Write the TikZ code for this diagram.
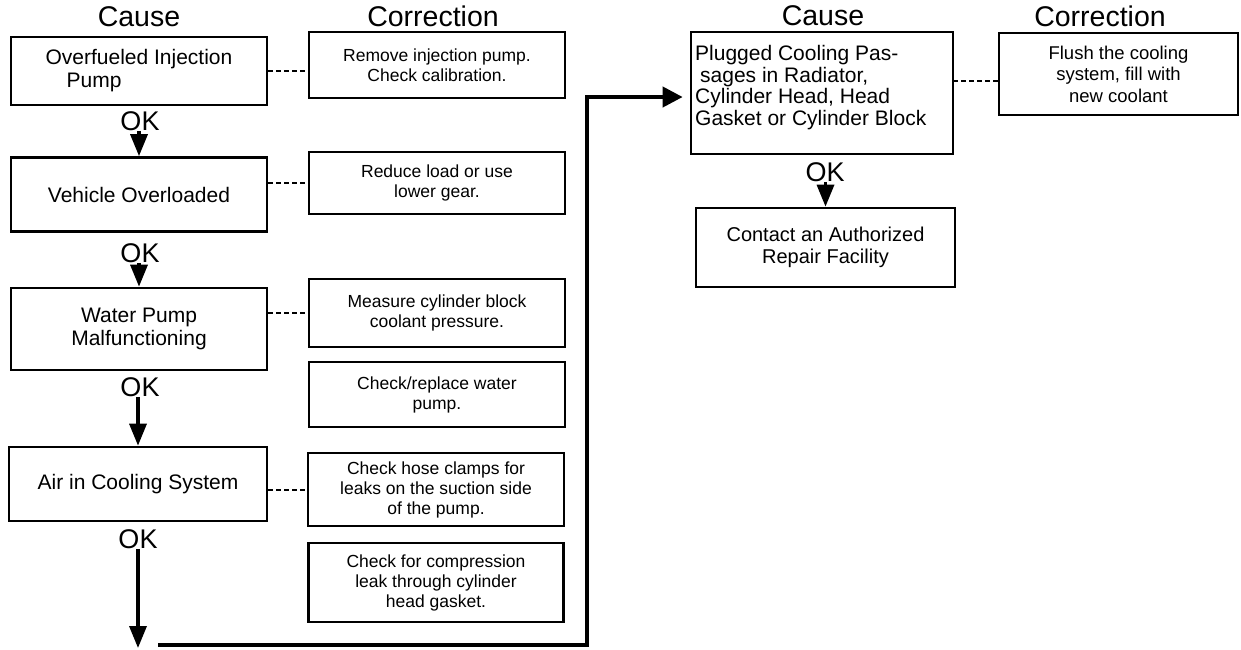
\documentclass[tikz,border=0pt]{standalone}
\usepackage{fontspec}
\setmainfont{Liberation Sans}
\usetikzlibrary{arrows.meta}
\begin{document}
\begin{tikzpicture}[x=1pt,y=-1pt,
  cause/.style={draw, line width=2.7pt, inner sep=3pt, align=center,
    font=\fontsize{21}{23}\selectfont},
  corr/.style={draw, line width=2.4pt, inner sep=3pt, align=center,
    font=\fontsize{17.5}{20}\selectfont},
  hdr/.style={inner sep=0pt, font=\fontsize{28.5}{30}\selectfont},
  ok/.style={inner sep=0pt, font=\fontsize{27}{28}\selectfont},
  arr/.style={line width=3.4pt, -{Triangle[width=17pt,length=22pt]}},
  route/.style={line width=4pt, line join=miter, -{Triangle[width=20pt,length=20pt]}},
  link/.style={line width=2pt, dash pattern=on 5pt off 3pt}
]
\useasboundingbox (0,0) rectangle (1241,649);
% headers
\node[hdr] (h1) at (139,17) {Cause};
\node[hdr] (h2) at (433,16) {Correction};
\node[hdr] (h3) at (823,16) {Cause};
\node[hdr] (h4) at (1100,16) {Correction};
% cause boxes left
\node[cause, minimum width=256pt, minimum height=68pt, align=left] (b1) at (139,71)
  {Overfueled Injection\\\hspace*{21pt}Pump};
\node[cause, minimum width=256pt, minimum height=74pt] (b2) at (139,194.5) {Vehicle Overloaded};
\node[cause, minimum width=256pt, minimum height=82pt] (b3) at (139,329) {Water Pump\\Malfunctioning};
\node[cause, minimum width=258pt, minimum height=74pt] (b4) at (138,484) {Air in Cooling System};
% correction boxes left
\node[corr, minimum width=256pt, minimum height=66pt] (c1) at (437,65) {Remove injection pump.\\Check calibration.};
\node[corr, minimum width=256pt, minimum height=62pt] (c2) at (437,183) {Reduce load or use\\lower gear.};
\node[corr, minimum width=256pt, minimum height=68pt] (c3) at (437,313) {Measure cylinder block\\coolant pressure.};
\node[corr, minimum width=256pt, minimum height=65pt] (c4) at (437,394.5) {Check/replace water\\pump.};
\node[corr, minimum width=256pt, minimum height=73pt] (c5) at (436,489.5) {Check hose clamps for\\leaks on the suction side\\of the pump.};
\node[corr, minimum width=255pt, minimum height=79pt] (c6) at (436,582.5) {Check for compression\\leak through cylinder\\head gasket.};
% right side
\node[draw, line width=2.7pt, minimum width=262pt, minimum height=122pt] (p) at (822,93) {};
\node[anchor=north west, inner sep=0pt, align=left, font=\fontsize{21}{21.7}\selectfont] (pt) at (695,45)
  {Plugged Cooling Pas-\\\hspace*{5pt}sages in Radiator,\\Cylinder Head, Head\\Gasket or Cylinder Block};
\node[corr, minimum width=239pt, minimum height=82pt, font=\fontsize{18.5}{21.5}\selectfont] (f) at (1118.5,74) {Flush the cooling\\system, fill with\\new coolant};
\node[cause, minimum width=259pt, minimum height=79pt, font=\fontsize{20}{22}\selectfont] (ct) at (825.5,247.5) {Contact an Authorized\\Repair Facility};
% OK labels
\node[ok] (ok1) at (140,121) {OK};
\node[ok] (ok2) at (140,253) {OK};
\node[ok] (ok3) at (140,387) {OK};
\node[ok] (ok4) at (138,539) {OK};
\node[ok] (ok5) at (825,172) {OK};
% arrows
\draw[arr] (ok1.south -| b2.north) -- (b2.north);
\draw[arr] (ok2.south -| b3.north) -- (b3.north);
\draw[arr] (ok3.south -| b4.north) -- (b4.north);
\coordinate (e4) at (138,648);
\draw[arr] (ok4.south -| e4) -- (e4);
\draw[arr] (ok5.south -| ct.north) -- (ct.north);
% route to right column
\coordinate (r1) at (158,645);
\coordinate (r2) at (587,645);
\coordinate (r3) at (587,97);
\draw[route] (r1) -- (r2) -- (r3) -- ([xshift=-7pt]p.west |- r3);
% dashed links
\draw[link] (b1.east) -- (b1.east -| c1.west);
\draw[link] (b2.east |- c2.west) -- (c2.west);
\draw[link] (b3.east |- c3.west) -- (c3.west);
\draw[link] (b4.east |- c5.west) -- (c5.west);
\coordinate (fl) at (953,81);
\draw[link] (fl) -- (fl -| f.west);
\end{tikzpicture}
\end{document}
